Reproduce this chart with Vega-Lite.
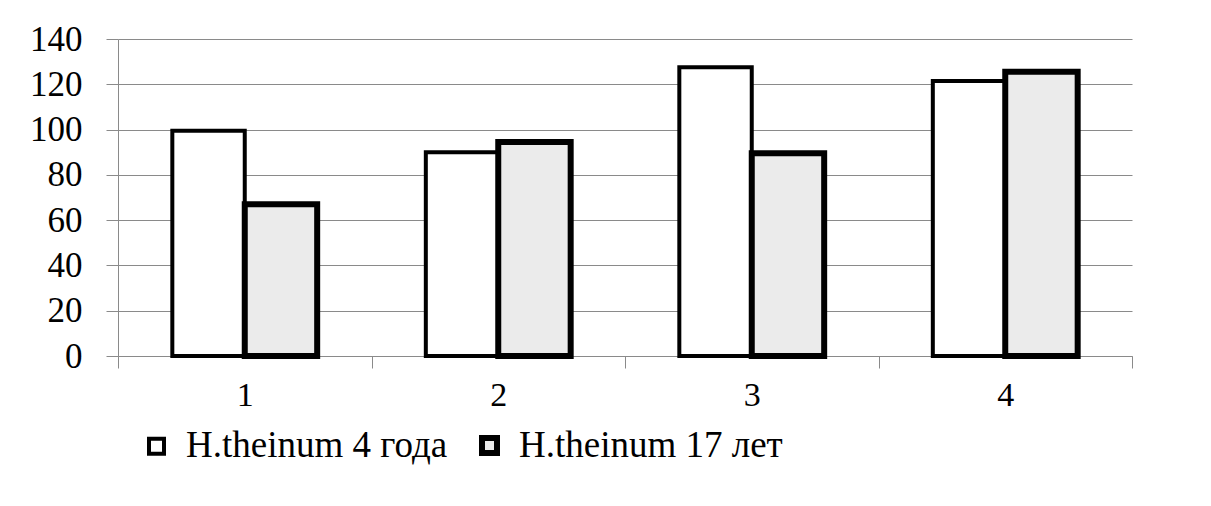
{
  "$schema": "https://vega.github.io/schema/vega-lite/v6.json",
  "autosize": {"type": "none"},
  "width": 1014,
  "height": 317,
  "padding": {"left": 118, "top": 39, "right": 79, "bottom": 150},
  "background": "white",
  "data": {
    "values": [
      {"group": "1", "series": "H.theinum 4 года", "value": 99.5},
      {"group": "1", "series": "H.theinum 17 лет", "value": 67},
      {"group": "2", "series": "H.theinum 4 года", "value": 90},
      {"group": "2", "series": "H.theinum 17 лет", "value": 94.5},
      {"group": "3", "series": "H.theinum 4 года", "value": 127.5},
      {"group": "3", "series": "H.theinum 17 лет", "value": 89.5},
      {"group": "4", "series": "H.theinum 4 года", "value": 121.5},
      {"group": "4", "series": "H.theinum 17 лет", "value": 125.5}
    ]
  },
  "mark": {"type": "bar", "stroke": "black"},
  "encoding": {
    "x": {
      "field": "group",
      "type": "nominal",
      "scale": {"paddingInner": 0, "paddingOuter": 0},
      "axis": {
        "title": null,
        "labelAngle": 0,
        "labelFont": "Liberation Serif",
        "labelFontSize": 34,
        "labelColor": "black",
        "labelPadding": 10,
        "tickBand": "extent",
        "tickSize": 12,
        "tickColor": "#8a8a8a",
        "domainColor": "#8a8a8a",
        "grid": false
      }
    },
    "xOffset": {
      "field": "series",
      "sort": ["H.theinum 4 года", "H.theinum 17 лет"],
      "scale": {"paddingInner": 0, "paddingOuter": 0.75}
    },
    "y": {
      "field": "value",
      "type": "quantitative",
      "scale": {"domain": [0, 140]},
      "axis": {
        "title": null,
        "values": [0, 20, 40, 60, 80, 100, 120, 140],
        "labelFont": "Liberation Serif",
        "labelFontSize": 35,
        "labelColor": "black",
        "labelPadding": 24,
        "tickSize": 12,
        "tickColor": "#8a8a8a",
        "domainColor": "#8a8a8a",
        "gridColor": "#8a8a8a",
        "gridOpacity": 1
      }
    },
    "fill": {
      "field": "series",
      "type": "nominal",
      "scale": {"domain": ["H.theinum 4 года", "H.theinum 17 лет"], "range": ["#ffffff", "#ebebeb"]},
      "legend": {
        "title": null,
        "orient": "none",
        "direction": "horizontal",
        "legendX": 20,
        "legendY": 388,
        "padding": 0,
        "symbolType": "square",
        "symbolSize": 225,
        "symbolStrokeColor": "black",
        "symbolStrokeWidth": 3.5,
        "labelFont": "Liberation Serif",
        "labelFontSize": 37,
        "labelColor": "black",
        "labelOffset": 11,
        "columnPadding": 22,
        "labelLimit": 600
      }
    },
    "strokeWidth": {
      "field": "series",
      "type": "nominal",
      "scale": {"domain": ["H.theinum 4 года", "H.theinum 17 лет"], "range": [4, 6]},
      "legend": null
    }
  },
  "config": {
    "view": {"stroke": null}
  }
}
